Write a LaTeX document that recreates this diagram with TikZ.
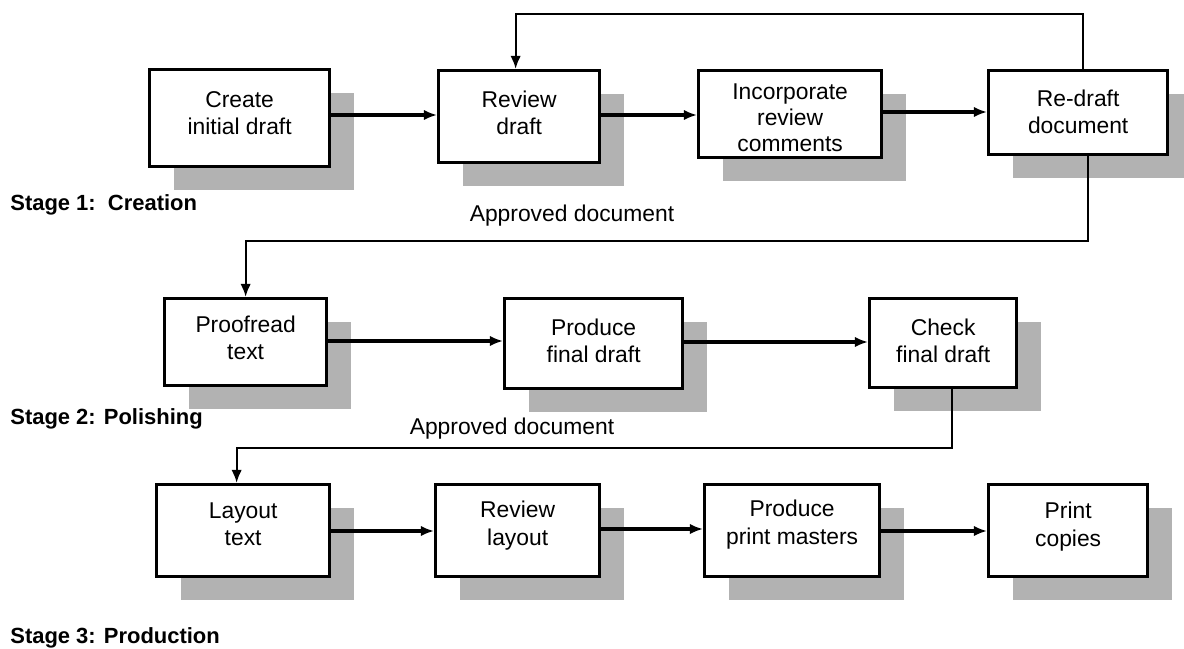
\documentclass[tikz,border=0pt]{standalone}
\usepackage{fontspec}
\setmainfont{Liberation Sans}
\usetikzlibrary{arrows.meta}
\usetikzlibrary{shadows}

\begin{document}
\begin{tikzpicture}[x=0.02cm, y=-0.02cm,
		stagebox/.style={draw, line width=1.9pt, fill=white, anchor=north west, inner sep=0pt,
			drop shadow={shadow xshift=0.48cm, shadow yshift=-0.46cm, fill=black!30, opacity=1}},
		boxtext/.style={font=\fontsize{13}{15.5}\selectfont, align=center, inner sep=0pt},
		flow/.style={line width=1.8pt, -{Latex[length=7.5pt,width=6pt]}},
		loopline/.style={line width=1.3pt, -{Latex[length=7.5pt,width=6pt]}},
		stagelabel/.style={font=\fontsize{12.5}{15}\selectfont\bfseries, anchor=west, inner sep=0pt},
		note/.style={font=\fontsize{13}{15.5}\selectfont, inner sep=0pt}]
	\useasboundingbox (0,0) rectangle (1184,649);

	% Stage 1
	\node[stagebox, minimum width=3.6cm, minimum height=1.94cm,
		label={[boxtext, yshift=0.1cm]center:Create\\initial draft}] (create) at (148,68) {};
	\node[stagebox, minimum width=3.22cm, minimum height=1.84cm,
		label={[boxtext, yshift=0.08cm]center:Review\\draft}] (revdraft) at (437,69) {};
	\node[stagebox, minimum width=3.66cm, minimum height=1.74cm,
		label={[boxtext, yshift=-0.08cm, font=\fontsize{13}{14.8}\selectfont]center:Incorporate\\review\\comments}] (incorp) at (697,69) {};
	\node[stagebox, minimum width=3.58cm, minimum height=1.68cm,
		label={[boxtext, yshift=0.02cm]center:Re-draft\\document}] (redraft) at (987,69) {};
	\node[stagelabel] (stage1) at (10,205) {Stage 1:~~Creation};

	\draw[flow] (create.east |- 0,115) -- (revdraft.west |- 0,115);
	\draw[flow] (revdraft.east |- 0,115) -- (incorp.west |- 0,115);
	\draw[flow] (incorp.east |- 0,112) -- (redraft.west |- 0,112);

	\coordinate (top) at (1083,14);
	\draw[loopline] (redraft.north -| top) -- (top) -| ([xshift=-0.07cm]revdraft.north);

	% Stage 2
	\node[stagebox, minimum width=3.24cm, minimum height=1.74cm,
		label={[boxtext, yshift=0.08cm]center:Proofread\\text}] (proof) at (163,297) {};
	\node[stagebox, minimum width=3.56cm, minimum height=1.8cm,
		label={[boxtext, yshift=0.06cm]center:Produce\\final draft}] (prodfinal) at (503,297) {};
	\node[stagebox, minimum width=2.94cm, minimum height=1.78cm,
		label={[boxtext, yshift=0.05cm]center:Check\\final draft}] (check) at (868,297) {};
	\node[stagelabel] (stage2) at (10,419) {Stage 2: Polishing};

	\coordinate (gate1) at (1088,241);
	\draw[loopline] (redraft.south -| gate1) -- (gate1) -| (proof.north);
	\node[note] (ok1) at (572,216) {Approved document};

	\draw[flow] (proof.east |- 0,341) -- (prodfinal.west |- 0,341);
	\draw[flow] (prodfinal.east |- 0,342) -- (check.west |- 0,342);

	% Stage 3
	\node[stagebox, minimum width=3.46cm, minimum height=1.84cm,
		label={[boxtext, yshift=0.13cm]center:Layout\\text}] (layout) at (155,483) {};
	\node[stagebox, minimum width=3.28cm, minimum height=1.84cm,
		label={[boxtext, yshift=0.1cm]center:Review\\layout}] (revlayout) at (434,483) {};
	\node[stagebox, minimum width=3.5cm, minimum height=1.84cm,
		label={[boxtext, yshift=0.12cm]center:Produce\\print masters}] (masters) at (703,483) {};
	\node[stagebox, minimum width=3.18cm, minimum height=1.84cm,
		label={[boxtext, yshift=0.08cm]center:Print\\copies}] (copies) at (987,483) {};
	\node[stagelabel] (stage3) at (10,638) {Stage 3: Production};

	\coordinate (gate2) at (952,448);
	\draw[loopline] (check.south -| gate2) -- (gate2) -| ([xshift=-0.13cm]layout.north);
	\node[note] (ok2) at (512,429) {Approved document};

	\draw[flow] (layout.east |- 0,531) -- (revlayout.west |- 0,531);
	\draw[flow] (revlayout.east |- 0,529) -- (masters.west |- 0,529);
	\draw[flow] (masters.east |- 0,531) -- (copies.west |- 0,531);
\end{tikzpicture}
\end{document}
